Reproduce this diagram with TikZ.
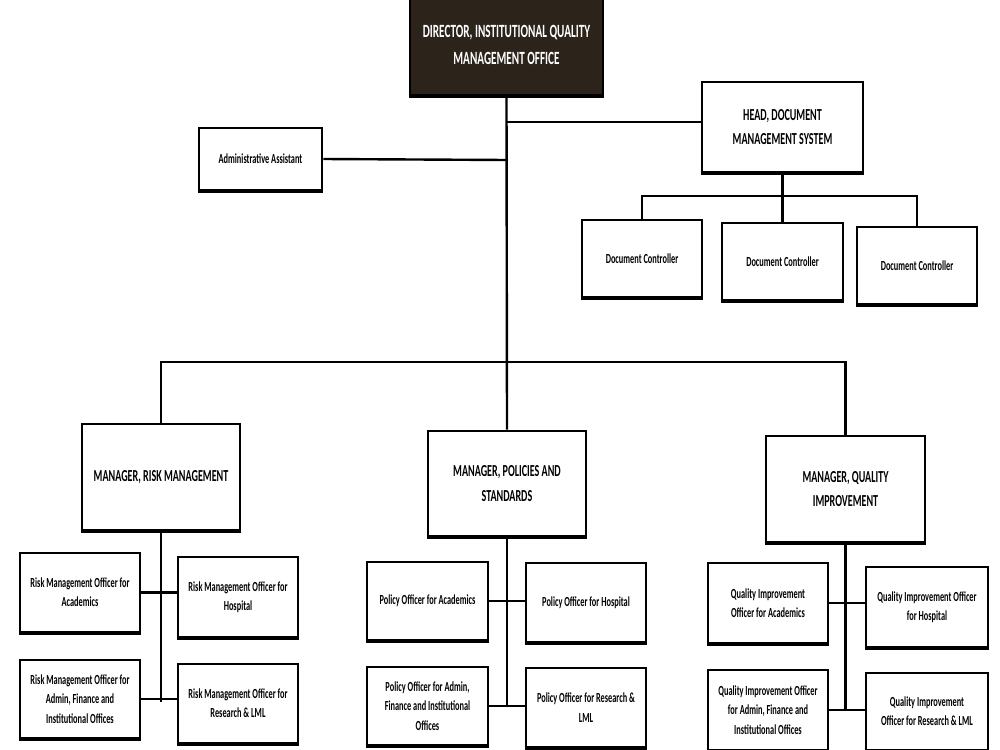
\documentclass[tikz,border=0pt]{standalone}
\usepackage{fontspec}
\setmainfont{Carlito}[FakeStretch=0.6]
\begin{document}
\begin{tikzpicture}[x=0.75pt,y=-0.75pt,
  box/.style={draw, line width=1.9pt, align=center, inner sep=1pt, fill=white},
  dirf/.style={font=\bfseries\fontsize{14}{20}\selectfont},
  big/.style={font=\bfseries\fontsize{12.6}{18.5}\selectfont},
  mid/.style={font=\bfseries\fontsize{10.4}{14.5}\selectfont},
  sml/.style={font=\bfseries\fontsize{10.4}{14}\selectfont},
  conn/.style={line width=1.8pt},
  rim/.style={line width=3pt}]
\useasboundingbox (0,0) rectangle (1000,750);
\fill[white] (0,0) rectangle (1000,750);
% director
\node[box, dirf, fill={rgb,255:red,44;green,35;blue,26}, text=white, minimum width=144.75pt, minimum height=75pt] (dir) at (506.5,45) {DIRECTOR, INSTITUTIONAL QUALITY\\MANAGEMENT OFFICE};
\node[box, big, font=\bfseries\fontsize{12.6}{17.5}\selectfont, minimum width=120.75pt, minimum height=67.5pt] (head) at (782.5,127) {HEAD, DOCUMENT\\MANAGEMENT SYSTEM};
\node[box, sml, minimum width=92.25pt, minimum height=46.5pt] (admin) at (260.5,159) {Administrative Assistant};
\node[box, sml, minimum width=90pt, minimum height=57.75pt] (dc1) at (642,258.5) {Document Controller};
\node[box, sml, minimum width=90.75pt, minimum height=57.75pt] (dc2) at (782.5,261.5) {Document Controller};
\node[box, sml, minimum width=90pt, minimum height=57.75pt] (dc3) at (917,265.5) {Document Controller};
% managers
\node[box, big, minimum width=118.5pt, minimum height=79.5pt] (mr) at (161,477) {MANAGER, RISK MANAGEMENT};
\node[box, big, minimum width=118.5pt, minimum height=78.75pt] (mp) at (507,483.5) {MANAGER, POLICIES AND\\STANDARDS};
\node[box, big, minimum width=119.25pt, minimum height=79.5pt] (mq) at (845.5,489) {MANAGER, QUALITY\\IMPROVEMENT};
% risk officers
\node[box, mid, minimum width=90pt, minimum height=59.25pt] (r1) at (80,592.5) {Risk Management Officer for\\Academics};
\node[box, mid, minimum width=90pt, minimum height=60pt] (r2) at (238,597) {Risk Management Officer for\\Hospital};
\node[box, mid, minimum width=90pt, minimum height=58.5pt] (r3) at (80,699) {Risk Management Officer for\\Admin, Finance and\\Institutional Offices};
\node[box, mid, minimum width=90pt, minimum height=59.25pt] (r4) at (238,703.5) {Risk Management Officer for\\Research \& LML};
% policy officers
\node[box, mid, minimum width=90.75pt, minimum height=58.5pt] (p1) at (427.5,601) {Policy Officer for Academics};
\node[box, mid, minimum width=90pt, minimum height=59.25pt] (p2) at (586,602.5) {Policy Officer for Hospital};
\node[box, mid, minimum width=90.75pt, minimum height=58.5pt] (p3) at (427.5,706) {Policy Officer for Admin,\\Finance and Institutional\\Offices};
\node[box, mid, minimum width=90pt, minimum height=59.25pt] (p4) at (586,707.5) {Policy Officer for Research \&\\LML};
% quality officers
\node[box, mid, minimum width=90pt, minimum height=60pt] (q1) at (768,603) {Quality Improvement\\Officer for Academics};
\node[box, mid, minimum width=91.5pt, minimum height=60pt] (q2) at (927,607) {Quality Improvement Officer\\for Hospital};
\node[box, mid, minimum width=90pt, minimum height=60pt] (q3) at (768,710) {Quality Improvement Officer\\for Admin, Finance and\\Institutional Offices};
\node[box, mid, minimum width=91.5pt, minimum height=58pt] (q4) at (927,711.5) {Quality Improvement\\Officer for Research \& LML};
% heavier bottom rims
\foreach \n in {head,admin,dc1,dc2,dc3,mr,mp,mq,r1,r2,r3,r4,p1,p2,p3,p4,q1,q2,q3,q4,dir}
  \draw[rim] (\n.south west) -- (\n.south east);
% coordinates
\coordinate (tHead) at (507,122);
\coordinate (tAdmin) at (507,160);
\coordinate (bus) at (507,362);
\coordinate (dcbus) at (782.5,196);
\coordinate (rEnd) at (161,702);
\coordinate (pEnd) at (507,707);
\coordinate (qEnd) at (846,710);
% connectors
\draw[conn] (dir.south) -- (mp.north);
\draw[conn] (tHead) -- (head.west |- tHead);
\draw[conn] (admin.east) -- (tAdmin);
\draw[conn] (mr.north) |- (bus) -| (mq.north);
\draw[conn] (head.south) -- (dc2.north);
\draw[conn] (dc1.north) |- (dcbus) -| (dc3.north);
\draw[conn] (mr.south) -- (rEnd);
\draw[conn] (r1.east) -- (r2.west |- r1.east);
\draw[conn] (r3.east) -- (r4.west |- r3.east);
\draw[conn] (mp.south) -- (pEnd);
\draw[conn] (p1.east) -- (p2.west |- p1.east);
\draw[conn] (p3.east) -- (p4.west |- p3.east);
\draw[conn] (mq.south) -- (mq.south |- qEnd);
\draw[conn] (q1.east) -- (q2.west |- q1.east);
\draw[conn] (q3.east) -- (q4.west |- q3.east);
\end{tikzpicture}
\end{document}
